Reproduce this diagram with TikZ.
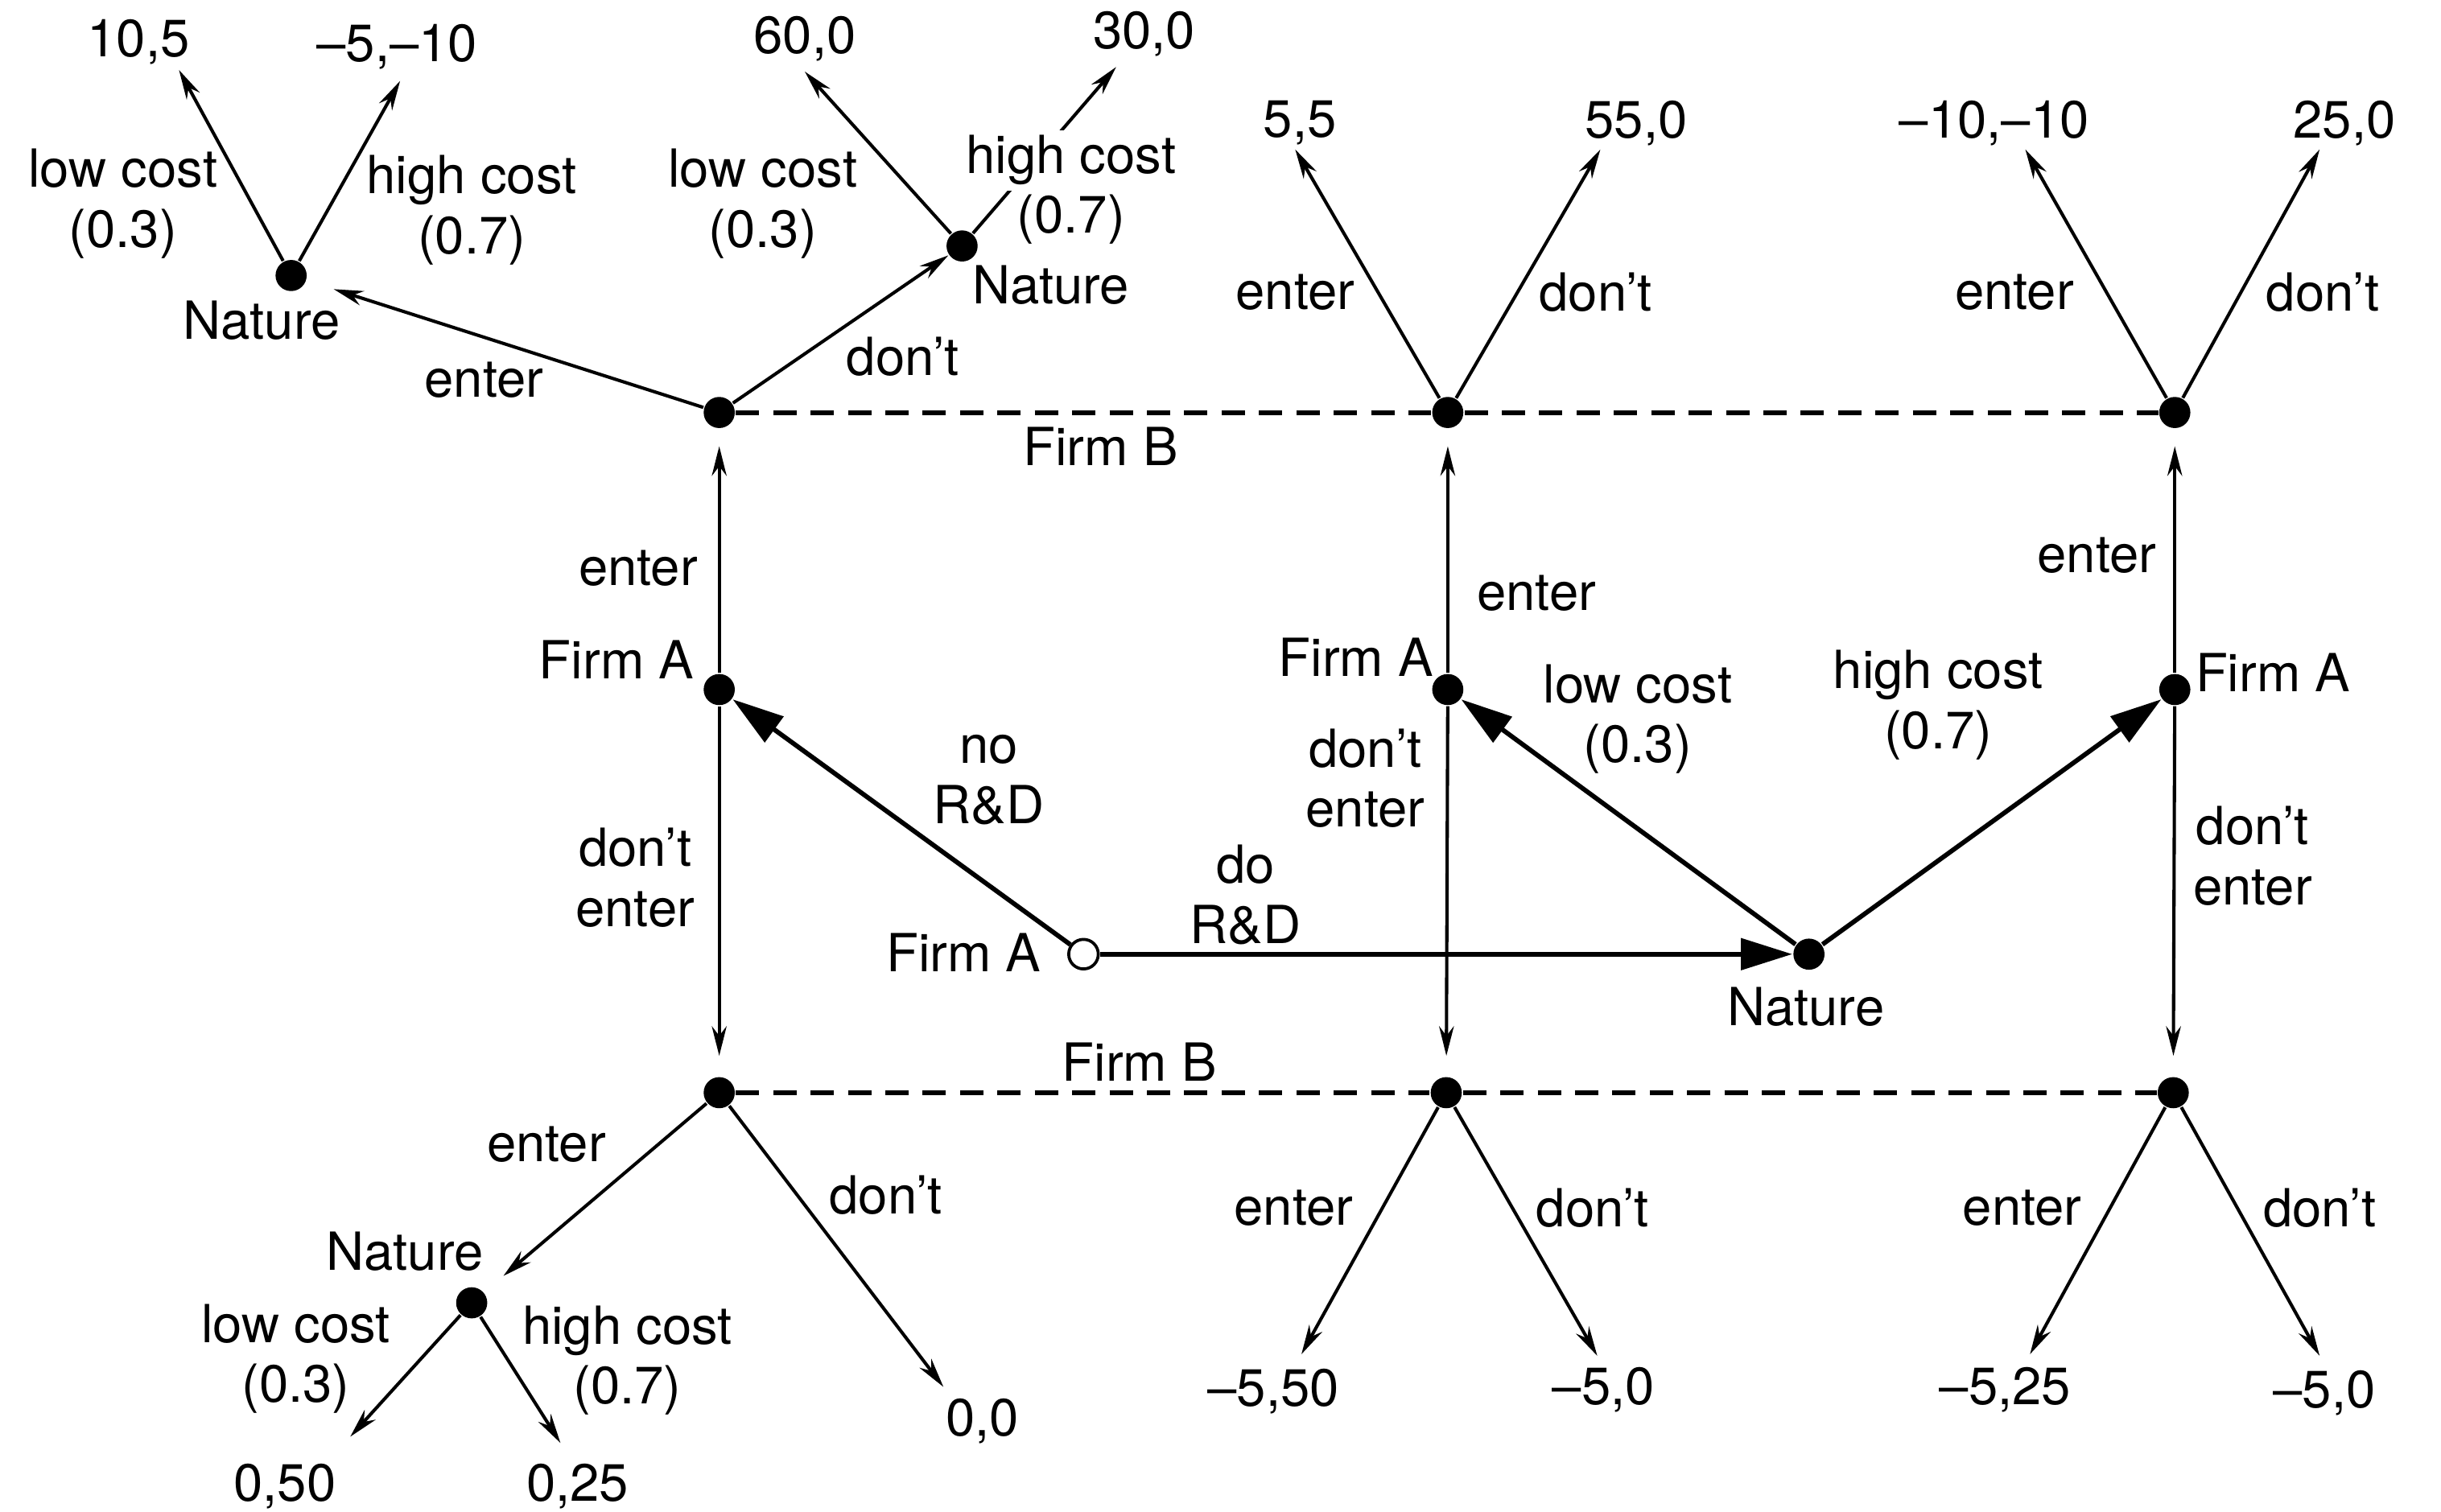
\documentclass[tikz,border=0pt]{standalone}
\usepackage{fontspec}
\setmainfont{TeX Gyre Heros}
\usetikzlibrary{arrows.meta}
\begin{document}
\begin{tikzpicture}[x=0.1mm, y=-0.1mm, font=\fontsize{9.6}{11}\selectfont,
  decnode/.style={circle, fill=black, inner sep=0pt, minimum size=2mm},
  rootdot/.style={circle, draw, fill=white, inner sep=0pt, minimum size=1.9mm, line width=0.55pt},
  mv/.style={-{Stealth[length=1.9mm, width=0.95mm]}, line width=0.6pt},
  bigmv/.style={-{Triangle[length=3.3mm, width=2mm]}, line width=0.85pt},
  info/.style={line width=0.9pt, dash pattern=on 1.5mm off 0.9mm},
  txt/.style={align=center, inner sep=0pt}]
  \useasboundingbox (0,0) rectangle (1568,971);
  \node[rootdot] (r) at (696,613) {};
  \node[decnode] (nat) at (1162,613) {};
  \node[decnode] (a1) at (462,443) {};
  \node[decnode] (a2) at (930,443) {};
  \node[decnode] (a3) at (1397,443) {};
  \node[decnode] (b1t) at (462,265) {};
  \node[decnode] (b2t) at (930,265) {};
  \node[decnode] (b3t) at (1397,265) {};
  \node[decnode] (b1b) at (462,702) {};
  \node[decnode] (b2b) at (929,702) {};
  \node[decnode] (b3b) at (1396,702) {};
  \node[decnode] (n1) at (187,177) {};
  \node[decnode] (n2) at (618,158) {};
  \node[decnode] (n3) at (303,837) {};
  \coordinate (t1) at (115,45);
  \coordinate (t2) at (257,52);
  \coordinate (t3) at (517,46);
  \coordinate (t4) at (717,43);
  \coordinate (t5) at (832,96);
  \coordinate (t6) at (1028,96);
  \coordinate (t7) at (1301,96);
  \coordinate (t8) at (1490,96);
  \coordinate (t9) at (225,923);
  \coordinate (t10) at (360,927);
  \coordinate (t11) at (606,891);
  \coordinate (t12) at (836,870);
  \coordinate (t13) at (1026,871);
  \coordinate (t14) at (1304,870);
  \coordinate (t15) at (1490,871);
  \draw[bigmv] (r) -- (a1);
  \draw[bigmv] (r) -- (nat);
  \draw[bigmv] (nat) -- (a2);
  \draw[bigmv] (nat) -- (a3);
  \draw[mv, shorten >=1.1mm] (a1) -- (b1t);
  \draw[mv, shorten >=1.3mm] (a1) -- (b1b);
  \draw[mv, shorten >=1.1mm] (a2) -- (b2t);
  \draw[mv, shorten >=1.3mm] (a2) -- (b2b);
  \draw[mv, shorten >=1.1mm] (a3) -- (b3t);
  \draw[mv, shorten >=1.3mm] (a3) -- (b3b);
  \draw[info] (b1t) -- (b2t);
  \draw[info] (b2t) -- (b3t);
  \draw[info] (b1b) -- (b2b);
  \draw[info] (b2b) -- (b3b);
  \draw[mv, shorten >=1.8mm] (b1t) -- (n1);
  \draw[mv] (b1t) -- (n2);
  \draw[mv] (n1) -- (t1);
  \draw[mv] (n1) -- (t2);
  \draw[mv] (n2) -- (t3);
  \draw[mv] (n2) -- (t4);
  \draw[mv] (b2t) -- (t5);
  \draw[mv] (b2t) -- (t6);
  \draw[mv] (b3t) -- (t7);
  \draw[mv] (b3t) -- (t8);
  \draw[mv, shorten >=1.6mm] (b1b) -- (n3);
  \draw[mv] (b1b) -- (t11);
  \draw[mv] (n3) -- (t9);
  \draw[mv] (n3) -- (t10);
  \draw[mv] (b2b) -- (t12);
  \draw[mv] (b2b) -- (t13);
  \draw[mv] (b3b) -- (t14);
  \draw[mv] (b3b) -- (t15);
  \node (lr) at (619,612) {Firm A};
  \node (la1) at (396,424) {Firm A};
  \node (la2) at (871,422) {Firm A};
  \node (la3) at (1460,432) {Firm A};
  \node (lnat) at (1160,647) {Nature};
  \node (ln1) at (168,206) {Nature};
  \node (ln2) at (675,183) {Nature};
  \node (ln3) at (260,804) {Nature};
  \node (lbt) at (707,287) {Firm B};
  \node (lbb) at (732,682) {Firm B};
  \node[txt] (enr) at (635,501) {no\\R\&D};
  \node[txt] (edr) at (800,575) {do\\R\&D};
  \node[txt] (elow) at (1052,462) {low cost\\(0.3)};
  \node[txt] (ehigh) at (1245,453) {high cost\\(0.7)};
  \node (e1u) at (410,365) {enter};
  \node[txt] (e1d) at (408,564) {don’t\\enter};
  \node (e2u) at (987,381) {enter};
  \node[txt] (e2d) at (877,500) {don’t\\enter};
  \node (e3u) at (1347,357) {enter};
  \node[txt] (e3d) at (1447,550) {don’t\\enter};
  \node (eb1e) at (311,244) {enter};
  \node (eb1d) at (580,229) {don’t};
  \node[txt] (en1l) at (79,131) {low cost\\(0.3)};
  \node[txt] (en1h) at (303,135) {high cost\\(0.7)};
  \node[txt] (en2l) at (490,131) {low cost\\(0.3)};
  \node[fill=white, inner sep=1pt] (en2h) at (688,103) {high cost};
  \node (en2p) at (688,141) {(0.7)};
  \node (eb2e) at (832,188) {enter};
  \node (eb2d) at (1025,188) {don’t};
  \node (eb3e) at (1294,188) {enter};
  \node (eb3d) at (1492,188) {don’t};
  \node (ec1e) at (351,735) {enter};
  \node (ec1d) at (569,768) {don’t};
  \node[txt] (en3l) at (190,873) {low cost\\(0.3)};
  \node[txt] (en3h) at (403,874) {high cost\\(0.7)};
  \node (ec2e) at (831,776) {enter};
  \node (ec2d) at (1023,776) {don’t};
  \node (ec3e) at (1299,776) {enter};
  \node (ec3d) at (1490,776) {don’t};
  \node (p1) at (89,27) {10,5};
  \node (p2) at (255,30) {–5,–10};
  \node (p3) at (517,25) {60,0};
  \node (p4) at (735,22) {30,0};
  \node (p5) at (835,79) {5,5};
  \node (p6) at (1051,79) {55,0};
  \node (p7) at (1281,79) {–10,–10};
  \node (p8) at (1506,79) {25,0};
  \node (p9) at (183,955) {0,50};
  \node (p10) at (371,955) {0,25};
  \node (p11) at (631,913) {0,0};
  \node (p12) at (818,894) {–5,50};
  \node (p13) at (1030,893) {–5,0};
  \node (p14) at (1288,893) {–5,25};
  \node (p15) at (1493,895) {–5,0};
\end{tikzpicture}
\end{document}
